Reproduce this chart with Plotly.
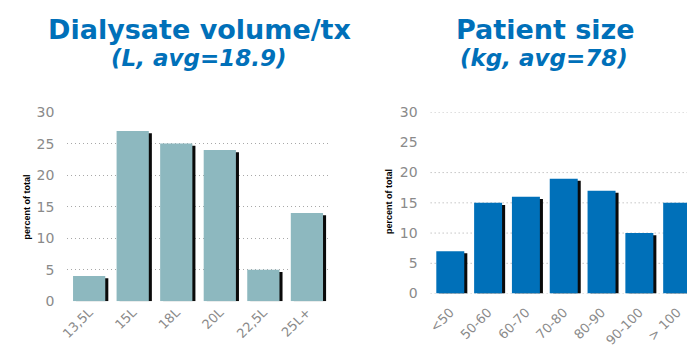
import plotly.graph_objects as go

# Dialysate volume per treatment (percent of total)
volume_labels = ["13,5L", "15L", "18L", "20L", "22,5L", "25L+"]
volume_pct = [4, 27, 25, 24, 5, 14]

# Patient size in kg (percent of total)
size_labels = ["<50", "50-60", "60-70", "70-80", "80-90", "90-100", "> 100"]
size_pct = [7, 15, 16, 19, 17, 10, 15]

y_ticks = [0, 5, 10, 15, 20, 25, 30]
size_grid = [0, 5, 10, 15, 20, 30]

W, H = 687, 356
TEAL = "#8db8bf"
BLUE = "#0070b9"
TICK_GRAY = "#8a8a8a"
GRID = "#a8a8a8"
FONT = "DejaVu Sans"

fig = go.Figure()

def add_bars(labels, values, color, xa, ya, shadow_dx):
    # dark drop shadow sitting slightly right of and below each bar
    fig.add_trace(go.Bar(
        x=labels, y=[v - 0.35 for v in values], xaxis=xa, yaxis=ya,
        width=0.74, offset=-0.37 + shadow_dx,
        marker=dict(color="#0a0a0a", line=dict(width=0)),
        hoverinfo="skip", showlegend=False))
    fig.add_trace(go.Bar(
        x=labels, y=values, xaxis=xa, yaxis=ya,
        width=0.74, offset=-0.37,
        marker=dict(color=color, line=dict(width=0)),
        showlegend=False))

add_bars(volume_labels, volume_pct, TEAL, "x", "y", 0.07)
add_bars(size_labels, size_pct, BLUE, "x2", "y2", 0.08)

tickfont = dict(family=FONT, size=14, color=TICK_GRAY)
xtickfont = dict(family=FONT, size=13, color=TICK_GRAY)

fig.update_layout(
    width=W, height=H,
    margin=dict(l=0, r=0, t=0, b=0),
    paper_bgcolor="white", plot_bgcolor="white",
    barmode="overlay", bargap=0.26,
    xaxis=dict(domain=[61 / W, 325 / W], range=[-0.5, 5.5],
               tickangle=-45, tickfont=xtickfont, showgrid=False,
               showline=False, zeroline=False, ticks=""),
    yaxis=dict(domain=[(H - 307) / H, (H - 109) / H], range=[0, 30],
               tickvals=y_ticks, tickfont=tickfont, showgrid=True,
               gridcolor=GRID, griddash="1px,3px", gridwidth=1,
               zeroline=False, ticks="", ticklabelstandoff=12),
    xaxis2=dict(domain=[428 / W, 1.0], range=[-0.52, 6.26],
                tickangle=-45, tickfont=xtickfont, showgrid=False,
                showline=False, zeroline=False, ticks=""),
    yaxis2=dict(domain=[(H - 299) / H, (H - 109) / H], range=[0, 30],
                anchor="x2", tickvals=y_ticks, tickfont=tickfont,
                showgrid=False, zeroline=False, ticks="",
                ticklabelstandoff=12),
)

# dotted reference lines on the patient-size panel
for g in size_grid:
    fig.add_shape(type="line", xref="x2 domain", yref="y2",
                  x0=0, x1=1, y0=g, y1=g, layer="below",
                  line=dict(color=GRID, width=1, dash="1px,3px"))

title_font = dict(family=FONT, size=27, color=BLUE)
sub_font = dict(family=FONT, size=23, color=BLUE)

annotations = [
    dict(text="<b>Dialysate volume/tx</b>", x=194 / W, y=1 - 22 / H, font=title_font),
    dict(text="<b><i>(L, avg=18.9)</i></b>", x=193 / W, y=1 - 52 / H, font=sub_font),
    dict(text="<b>Patient size</b>", x=544 / W, y=1 - 22 / H, font=title_font),
    dict(text="<b><i>(kg, avg=78)</i></b>", x=543 / W, y=1 - 52 / H, font=sub_font),
    dict(text="<b>percent of total</b>", x=20 / W, y=1 - 208 / H, textangle=-90,
         font=dict(family="Liberation Sans Narrow, Liberation Sans", size=9, color="black")),
    dict(text="<b>percent of total</b>", x=386 / W, y=1 - 203 / H, textangle=-90,
         font=dict(family="Liberation Sans Narrow, Liberation Sans", size=9, color="black")),
]
for a in annotations:
    fig.add_annotation(xref="paper", yref="paper", xanchor="center",
                       yanchor="middle", showarrow=False, **a)

fig.write_html("out.html")
